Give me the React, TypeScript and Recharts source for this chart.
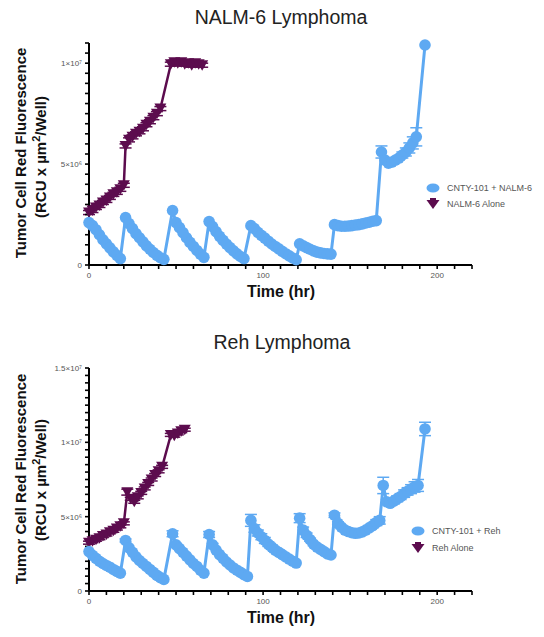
import { LineChart, Line, XAxis, YAxis, ErrorBar } from "recharts"

const BLUE = "#5ea9f2"
const PURPLE = "#5c0c4e"
const INK = "#000"
const FONT = "'Liberation Sans', Arial, sans-serif"

// NALM-6 panel, values in 10^6 RCU x µm²/Well
const nalmCntyTime = [
  0, 2, 4, 6, 8, 10, 12, 14, 16, 18,
  21, 23, 25, 27, 29, 31, 33, 35, 37, 39, 41, 43,
  48, 50, 52, 54, 56, 58, 60, 62, 64, 66,
  69, 71, 73, 75, 77, 79, 81, 83, 85, 87, 89,
  93, 95, 97, 99, 101, 103, 105, 107, 109, 111, 113, 115, 117, 119,
  121, 123, 125, 127, 129, 131, 133, 135, 137, 139,
  141, 143, 145, 147, 149, 151, 153, 155, 157, 159, 161, 163, 165,
  168, 170, 172, 174, 176, 178, 180, 182, 184, 186, 188,
  193,
]
const nalmCntyValue = [
  2.1, 1.95, 1.75, 1.5, 1.25, 1.05, 0.85, 0.65, 0.48, 0.32,
  2.35, 2.05, 1.8, 1.55, 1.35, 1.15, 0.95, 0.78, 0.62, 0.48, 0.36, 0.28,
  2.7, 2.1, 1.85, 1.6, 1.35, 1.12, 0.92, 0.72, 0.54, 0.38,
  2.15, 1.9, 1.65, 1.42, 1.22, 1.03, 0.86, 0.7, 0.55, 0.42, 0.32,
  1.95, 1.8, 1.62, 1.47, 1.33, 1.18, 1.04, 0.92, 0.8, 0.68, 0.56, 0.45, 0.35, 0.26,
  1.05, 0.95, 0.86, 0.78, 0.7, 0.64, 0.6, 0.57, 0.55, 0.54,
  2.0, 1.95, 1.92, 1.92, 1.93, 1.95, 1.98, 2.0, 2.04, 2.08, 2.12, 2.17, 2.2,
  5.6, 5.2, 5.05, 5.1, 5.2, 5.3, 5.45, 5.6, 5.8, 6.05, 6.35,
  10.9,
]
const nalmCntyErr = [
  0, 0, 0, 0, 0, 0, 0, 0, 0, 0,
  0, 0, 0, 0, 0, 0, 0, 0, 0, 0, 0, 0,
  0, 0, 0, 0, 0, 0, 0, 0, 0, 0,
  0, 0, 0, 0, 0, 0, 0, 0, 0, 0, 0,
  0, 0, 0, 0, 0, 0, 0, 0, 0, 0, 0, 0, 0, 0,
  0, 0, 0, 0, 0, 0, 0, 0, 0, 0,
  0, 0, 0, 0, 0, 0, 0, 0, 0, 0, 0, 0, 0,
  0.3, 0, 0, 0, 0, 0.1, 0.15, 0.2, 0.25, 0.3, 0.45,
  0,
]
const nalmAloneTime = [
  0, 2, 4, 6, 8, 10, 12, 14, 16, 18, 20,
  21, 23, 25, 27, 29, 31, 33, 35, 37, 39, 41,
  47, 49, 51, 53, 55, 57, 59, 61, 63, 65,
]
const nalmAloneValue = [
  2.6, 2.7, 2.85, 2.95, 3.1, 3.2, 3.35, 3.5, 3.6, 3.75, 3.95,
  5.9, 6.2, 6.35, 6.5, 6.6, 6.75, 6.95, 7.1, 7.3, 7.5, 7.75,
  9.95, 10.05, 10.0, 10.05, 9.95, 10.0, 9.9, 10.0, 9.95, 9.9,
]
const nalmAloneErr = [
  0.1, 0.1, 0.1, 0.1, 0.1, 0.1, 0.1, 0.1, 0.1, 0.1, 0.1,
  0.1, 0.1, 0.1, 0.1, 0.1, 0.1, 0.1, 0.1, 0.1, 0.1, 0.1,
  0.1, 0.1, 0.1, 0.1, 0.1, 0.1, 0.1, 0.1, 0.1, 0.1,
]

// Reh panel
const rehCntyTime = [
  0, 2, 4, 6, 8, 10, 12, 14, 16, 18,
  21, 23, 25, 27, 29, 31, 33, 35, 37, 39, 41, 43,
  48, 50, 52, 54, 56, 58, 60, 62, 64, 66,
  69, 71, 73, 75, 77, 79, 81, 83, 85, 87, 89, 91,
  93, 95, 97, 99, 101, 103, 105, 107, 109, 111, 113, 115, 117, 119,
  121, 123, 125, 127, 129, 131, 133, 135, 137, 139,
  141, 143, 145, 147, 149, 151, 153, 155, 157, 159, 161, 163, 165, 167,
  169, 171, 173, 175, 177, 179, 181, 183, 185, 187, 189,
  193,
]
const rehCntyValue = [
  2.65, 2.4, 2.2, 2.0, 1.85, 1.72, 1.6, 1.45, 1.32, 1.2,
  3.4, 2.9, 2.6, 2.3, 2.05, 1.85, 1.65, 1.45, 1.25, 1.05, 0.9, 0.78,
  3.85, 3.1, 2.85, 2.6, 2.35, 2.1, 1.85, 1.65, 1.4, 1.2,
  3.8, 3.1, 2.75, 2.45, 2.2, 1.95, 1.75, 1.55, 1.4, 1.25, 1.1, 0.98,
  4.75, 4.2, 3.9, 3.65, 3.4, 3.15, 2.95, 2.75, 2.6, 2.45, 2.3, 2.15, 2.0, 1.88,
  4.9, 4.1, 3.75, 3.45, 3.15, 2.95, 2.8, 2.65, 2.5, 2.42,
  5.1, 4.55, 4.3, 4.1, 4.0, 3.92, 3.88, 3.9, 3.98, 4.1, 4.25, 4.4, 4.6, 4.75,
  7.1, 6.0, 5.9, 6.05, 6.2, 6.35, 6.55, 6.7, 6.85, 7.0, 7.1,
  10.9,
]
const rehCntyErr = [
  0, 0, 0, 0, 0, 0, 0, 0, 0, 0,
  0.1, 0, 0, 0, 0, 0, 0, 0, 0, 0, 0, 0,
  0.2, 0.1, 0, 0, 0, 0, 0, 0, 0, 0,
  0.2, 0.1, 0, 0, 0, 0, 0, 0, 0, 0, 0, 0,
  0.4, 0.25, 0.2, 0.2, 0.2, 0.15, 0.15, 0.15, 0.15, 0.1, 0.1, 0.1, 0.1, 0,
  0.3, 0.2, 0.15, 0.1, 0.1, 0.1, 0, 0, 0, 0,
  0.15, 0.1, 0.1, 0, 0, 0, 0, 0, 0.1, 0.1, 0.15, 0.15, 0.2, 0.25,
  0.55, 0.15, 0.15, 0.2, 0.2, 0.2, 0.25, 0.25, 0.3, 0.35, 0.4,
  0.45,
]
const rehAloneTime = [
  0, 2, 4, 6, 8, 10, 12, 14, 16, 18, 20,
  22, 24, 26, 28, 30, 32, 34, 36, 38, 40, 42,
  47, 49, 51, 53, 55,
]
const rehAloneValue = [
  3.25, 3.35, 3.45, 3.55, 3.7, 3.8, 3.95, 4.05, 4.2, 4.35, 4.55,
  6.65, 6.2, 6.0, 6.3, 6.6, 6.9, 7.2, 7.5, 7.8, 8.05, 8.35,
  10.5, 10.45, 10.6, 10.75, 10.85,
]
const rehAloneErr = [
  0.1, 0.1, 0.1, 0.1, 0.1, 0.1, 0.1, 0.1, 0.1, 0.1, 0.1,
  0.2, 0.1, 0.1, 0.1, 0.1, 0.1, 0.1, 0.1, 0.1, 0.1, 0.1,
  0.1, 0.1, 0.1, 0.1, 0.1,
]

const timeTicks = [0, 10, 20, 30, 40, 50, 60, 70, 80, 90, 100, 110, 120, 130, 140, 150, 160, 170, 180, 190, 200, 210, 220]
const timeLabels: Record<number, string> = { 0: "0", 100: "100", 200: "200" }
const nalmYLabels: Record<number, string> = { 0: "0", 5: "5×10⁶", 10: "1×10⁷" }
const rehYLabels: Record<number, string> = { 0: "0", 5: "5×10⁶", 10: "1×10⁷", 15: "1.5×10⁷" }
const nalmYTicks = Array.from({ length: 23 }, (_, i) => i * 0.5)
const rehYTicks = Array.from({ length: 31 }, (_, i) => i * 0.5)

const toRows = (t: number[], v: number[], e: number[]) =>
  t.map((time, i) => ({ time, value: v[i], err: e[i] }))

// tick marks come from recharts' tickLine; these only draw the sparse labels
const YTick = ({ x, y, payload, labels }: any) => {
  const label = labels[payload.value]
  if (!label) return <g />
  return (
    <text x={x - 1} y={y} dy={3} textAnchor="end" fontSize={8} fill="#555" fontFamily={FONT}>
      {label}
    </text>
  )
}

const XTick = ({ x, y, payload }: any) => {
  const label = timeLabels[payload.value]
  if (!label) return <g />
  return (
    <text x={x} y={y + 7} textAnchor="middle" fontSize={8} fill="#555" fontFamily={FONT}>
      {label}
    </text>
  )
}

const TriDot = (props: any) => {
  const { cx, cy, index } = props
  if (cx == null || cy == null) return <g key={`n${index}`} />
  return (
    <path
      key={`tri${index}`}
      d={`M${cx - 6},${cy - 5} L${cx + 6},${cy - 5} L${cx},${cy + 5.5} Z`}
      fill={PURPLE}
    />
  )
}

const Panel = ({ height, marginTop, marginBottom, yMax, yTicks, yLabels, cnty, alone }: any) => (
  <LineChart
    width={544}
    height={height}
    margin={{ top: marginTop, right: 72, bottom: marginBottom - 1, left: 88 }}
  >
    <XAxis
      type="number"
      dataKey="time"
      domain={[0, 220]}
      ticks={timeTicks}
      interval={0}
      height={1}
      tickSize={4}
      tickMargin={2}
      tick={(p: any) => <XTick {...p} />}
      axisLine={{ stroke: INK, strokeWidth: 2 }}
      tickLine={{ stroke: INK, strokeWidth: 1.6 }}
    />
    <YAxis
      type="number"
      domain={[0, yMax]}
      ticks={yTicks}
      interval={0}
      width={1}
      tickSize={4}
      tickMargin={2}
      tick={(p: any) => <YTick {...p} labels={yLabels} />}
      axisLine={{ stroke: INK, strokeWidth: 2 }}
      tickLine={{ stroke: INK, strokeWidth: 1.6 }}
    />
    <Line
      data={alone}
      dataKey="value"
      stroke={PURPLE}
      strokeWidth={2.5}
      dot={(p: any) => <TriDot {...p} key={`a${p.index}`} />}
      isAnimationActive={false}
    >
      <ErrorBar dataKey="err" direction="y" width={6} stroke={PURPLE} strokeWidth={1.5} />
    </Line>
    <Line
      data={cnty}
      dataKey="value"
      stroke={BLUE}
      strokeWidth={3}
      dot={{ r: 5.8, fill: BLUE, stroke: BLUE, strokeWidth: 0 }}
      isAnimationActive={false}
    >
      <ErrorBar dataKey="err" direction="y" width={6} stroke={BLUE} strokeWidth={1.5} />
    </Line>
  </LineChart>
)

const BlueKey = ({ x, y }: { x: number; y: number }) => <ellipse cx={x} cy={y} rx={6.5} ry={4.5} fill={BLUE} />
const PurpleKey = ({ x, y }: { x: number; y: number }) => (
  <g>
    <path d={`M${x - 6.5},${y - 4} L${x + 6.5},${y - 4} L${x},${y + 5} Z`} fill={PURPLE} />
    <rect x={x - 3} y={y - 6} width={6} height={3} fill={PURPLE} />
  </g>
)

const YTitle = ({ cy1, cy2 }: { cy1: number; cy2: number }) => (
  <g fontFamily={FONT} fontWeight="bold" fontSize={15} fill="#111">
    <text transform={`translate(26,${cy1}) rotate(-90)`} textAnchor="middle">
      Tumor Cell Red Fluorescence
    </text>
    <text transform={`translate(46,${cy2}) rotate(-90)`} textAnchor="middle">
      <tspan>(RCU x µm</tspan>
      <tspan dy={-6} fontSize={11}>2</tspan>
      <tspan dy={6}>/Well)</tspan>
    </text>
  </g>
)

export default function App() {
  const nalmCnty = toRows(nalmCntyTime, nalmCntyValue, nalmCntyErr)
  const nalmAlone = toRows(nalmAloneTime, nalmAloneValue, nalmAloneErr)
  const rehCnty = toRows(rehCntyTime, rehCntyValue, rehCntyErr)
  const rehAlone = toRows(rehAloneTime, rehAloneValue, rehAloneErr)

  return (
    <div style={{ position: "absolute", left: 0, top: 0, width: 544, height: 637, background: "#fff" }}>
      <div style={{ position: "absolute", left: 0, top: 0 }}>
        <Panel
          height={300}
          marginTop={43}
          marginBottom={35}
          yMax={11}
          yTicks={nalmYTicks}
          yLabels={nalmYLabels}
          cnty={nalmCnty}
          alone={nalmAlone}
        />
      </div>
      <div style={{ position: "absolute", left: 0, top: 320 }}>
        <Panel
          height={317}
          marginTop={48}
          marginBottom={46}
          yMax={15}
          yTicks={rehYTicks}
          yLabels={rehYLabels}
          cnty={rehCnty}
          alone={rehAlone}
        />
      </div>
      <svg
        width={544}
        height={637}
        style={{ position: "absolute", left: 0, top: 0, pointerEvents: "none" }}
      >
        <g fontFamily={FONT} fill="#222">
          <text x={281} y={24} textAnchor="middle" fontSize={19.5}>NALM-6 Lymphoma</text>
          <text x={282} y={349} textAnchor="middle" fontSize={19.5}>Reh Lymphoma</text>
          <text x={281} y={297} textAnchor="middle" fontSize={16} fontWeight="bold" fill="#111">Time (hr)</text>
          <text x={281} y={623} textAnchor="middle" fontSize={16} fontWeight="bold" fill="#111">Time (hr)</text>
        </g>
        <YTitle cy1={153} cy2={157} />
        <YTitle cy1={479} cy2={480} />
        <BlueKey x={433} y={188} />
        <PurpleKey x={433} y={204} />
        <BlueKey x={418} y={531} />
        <PurpleKey x={418} y={548} />
        <g fontFamily={FONT} fontSize={9} fill="#555">
          <text x={447} y={191}>CNTY-101 + NALM-6</text>
          <text x={447} y={207}>NALM-6 Alone</text>
          <text x={432} y={534}>CNTY-101 + Reh</text>
          <text x={432} y={551}>Reh Alone</text>
        </g>
      </svg>
    </div>
  )
}
